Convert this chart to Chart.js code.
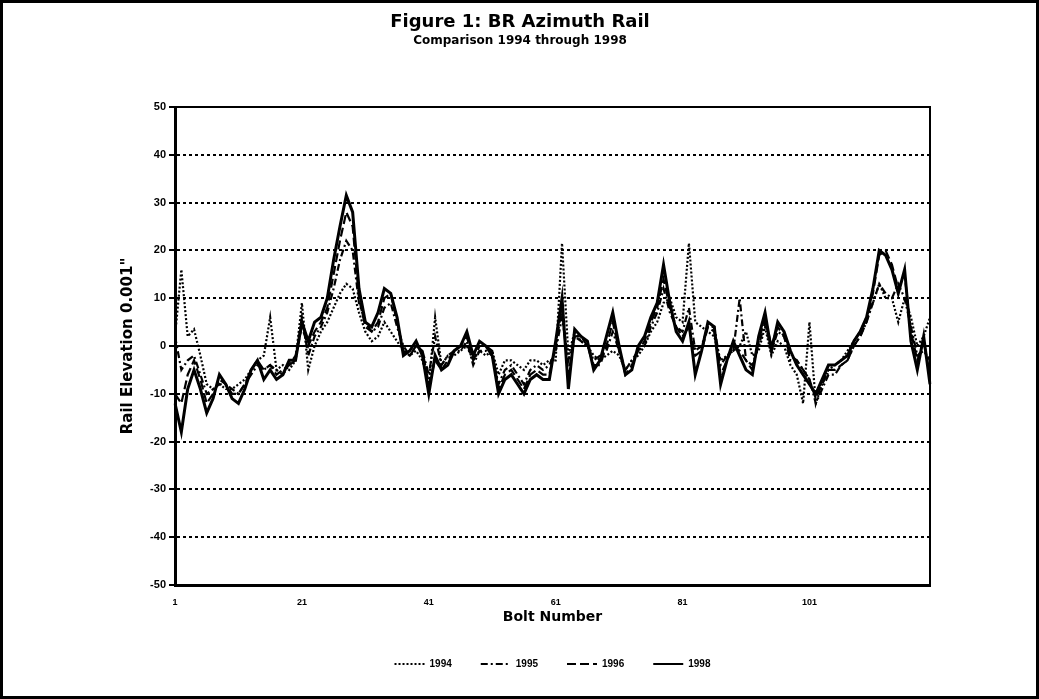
<!DOCTYPE html>
<html>
<head>
<meta charset="utf-8">
<title>Figure 1: BR Azimuth Rail</title>
<script src="https://cdn.jsdelivr.net/npm/chart.js@4.4.1/dist/chart.umd.min.js"></script>
<style>
  html, body { margin: 0; padding: 0; background: #fff; }
  #wrap { width: 1039px; height: 699px; position: relative; }
</style>
</head>
<body>
<div id="wrap"><canvas id="grafico"></canvas></div>
<script>
// bolt numbers along the rail
const bolts = Array.from({length: 120}, (_, i) => i + 1);
const yTicks = [50, 40, 30, 20, 10, 0, -10, -20, -30, -40, -50];

const y1994 = [2,16,2,3.5,-2,-8,-9,-8,-9,-9,
  -8,-7,-5,-3,-2,6,-5,-4,-5,-3,
  9,-5,0,3,5,8,11,13,12,7,
  3,1,2,5,3,1,-1,-2,-1,-3,
  -8,6,-4,-2,-2,-1,0,-3,-1,-2,
  -1,-6,-3,-3,-4,-5,-3,-3,-4,-3,
  -3,21.5,-2,3,1,0,-2,-3,-2,-1,
  -2,-5,-3,-2,0,3,5,9,10,6,
  5,21.5,5,4,3,2,-3,-2,-1,0,
  3,-2,-1,4,-2,1,0,-4,-6,-12,
  5,-12,-8,-5,-4,-3,-1,1,3,6,
  9,13,10,10,5,10,6,0,2,6];

const y1995 = [2,-5,-3,-2,-6,-10,-9,-8,-8,-9,
  -10,-8,-6,-4,-5,-4,-5,-6,-4,-3,
  6,-2,2,4,7,12,18,22,20,9,
  5,3,4,8,9,4,0,-2,0,-1,
  -6,2,-4,-2,-1,-1,1,-4,-1,-1,
  -2,-8,-5,-4,-6,-8,-5,-4,-5,-4,
  -1,6,-3,2,1,0,-3,-2,-1,3,
  -1,-5,-3,-1,0,4,7,12,7,4,
  3,8,-1,0,4,4,-4,-2,-1,10,
  -3,-4,0,5,-1,3,2,-3,-3,-5,
  -7,-12,-9,-6,-6,-4,-3,0,2,5,
  9,13,11,10,13,10,4,-2,-1,-3];

const y1996 = [-10,-12,-6,-3,-7,-12,-10,-7,-8,-10,
  -10,-8,-5,-3,-5,-4,-6,-5,-4,-2,
  4,0,3,5,8,15,22,28,25,10,
  4,3,5,10,11,5,-1,-2,0,-1,
  -8,-3,-5,-3,-1,0,2,-3,0,0,
  -1,-9,-6,-5,-7,-9,-6,-5,-6,-6,
  0,8,-6,2,2,0,-4,-4,0,5,
  -1,-6,-4,-1,1,5,8,14,8,4,
  2,4,-2,-1,4,3,-6,-3,0,-1,
  -3,-5,1,6,0,4,2,-2,-3,-5,
  -7,-11,-8,-5,-5,-4,-3,0,2,5,
  11,19,20,17,12,15,3,-3,1,-6];

const y1998 = [-12,-18,-9,-5,-9,-14,-11,-6,-8,-11,
  -12,-9,-5,-3,-7,-5,-7,-6,-3,-3,
  5,1,5,6,10,18,25,31.5,28,12,
  5,4,7,12,11,6,-2,-1,1,-2,
  -10,-2,-5,-4,-1,0,3,-2,1,0,
  -2,-10,-7,-6,-8,-10,-7,-6,-7,-7,
  1,10,-9,3.5,2,1,-5,-3,2,7,
  0,-6,-5,0,2,6,9,17,9,3,
  1,5,-6,-1,5,4,-8,-3,1,-2,
  -5,-6,2,7,-1,5,3,-1,-4,-6,
  -8,-10,-7,-4,-4,-3,-2,1,3,6,
  12,20,19,16,11,16,1,-5,2,-8];

const fuente = "'Liberation Sans', Arial, sans-serif";
const fuenteAncha = "'DejaVu Sans', Verdana, sans-serif";

// frame around plot, solid zero line, border round the page
const marcos = {
  id: 'marcos',
  afterLayout(chart) {
    // legend sits centred under the plot, not the page
    const l = chart.legend, a = chart.chartArea;
    const shift = (a.left + a.right) / 2 - (l.left + l.right) / 2;
    l.left += shift;
    l.right += shift;
  },
  afterDatasetsDraw(chart) {
    const {ctx, chartArea: a, scales: {y}} = chart;
    ctx.save();
    ctx.strokeStyle = '#000';
    ctx.setLineDash([]);
    const y0 = y.getPixelForValue(0);
    ctx.lineWidth = 2;
    ctx.beginPath();
    ctx.moveTo(a.left, y0);
    ctx.lineTo(a.right, y0);
    ctx.stroke();
    ctx.strokeRect(a.left, a.top, a.right - a.left, a.bottom - a.top);
    ctx.lineWidth = 3;
    ctx.strokeRect(1.5, 1.5, chart.width - 3, chart.height - 3);
    ctx.restore();
  }
};

const serie = (label, data, dash, width) => ({
  label: label,
  data: data,
  borderColor: '#000',
  backgroundColor: '#000',
  borderWidth: width,
  borderDash: dash,
  pointRadius: 0,
  pointStyle: 'line',
  tension: 0,
  fill: false
});

const ctx = document.getElementById('grafico').getContext('2d');
new Chart(ctx, {
  type: 'line',
  data: {
    labels: bolts,
    datasets: [
      serie('1994', y1994, [2, 2], 2.2),
      serie('1995', y1995, [7, 3, 2, 3], 2.2),
      serie('1996', y1996, [9, 4], 2.2),
      serie('1998', y1998, [], 3)
    ]
  },
  options: {
    responsive: true,
    maintainAspectRatio: false,
    animation: false,
    layout: { padding: { left: 110, right: 109, top: 10, bottom: 20 } },
    plugins: {
      title: {
        display: true,
        text: 'Figure 1: BR Azimuth Rail',
        color: '#000',
        font: { family: fuenteAncha, size: 18, weight: 'bold' },
        padding: { top: 2, bottom: 0 }
      },
      subtitle: {
        display: true,
        text: 'Comparison 1994 through 1998',
        color: '#000',
        font: { family: fuenteAncha, size: 12, weight: 'bold' },
        padding: { top: 0, bottom: 59 }
      },
      legend: {
        position: 'bottom',
        labels: {
          color: '#000',
          usePointStyle: true,
          pointStyleWidth: 30,
          boxHeight: 8,
          padding: 29,
          font: { family: fuente, size: 10, weight: 'bold' },
          // point style drops the dataset dash, so put it back
          generateLabels: (chart) => Chart.defaults.plugins.legend.labels.generateLabels(chart)
            .map((item, i) => ({
              ...item,
              lineDash: chart.data.datasets[i].borderDash,
              lineWidth: 2
            }))
        }
      },
      tooltip: { enabled: false }
    },
    scales: {
      x: {
        afterFit: (s) => { s.height = 45; },
        grid: { display: false },
        border: { display: true, color: '#000', width: 3 },
        ticks: {
          color: '#000',
          autoSkip: false,
          maxRotation: 0,
          padding: 4,
          font: { family: fuente, size: 9, weight: 'bold' },
          callback: (v, i) => (i % 20 === 0 ? bolts[i] : '')
        },
        title: {
          display: true,
          text: 'Bolt Number',
          color: '#000',
          font: { family: fuenteAncha, size: 14, weight: 'bold' },
          padding: { top: 0, bottom: 4 }
        }
      },
      y: {
        min: yTicks[yTicks.length - 1],
        max: yTicks[0],
        afterFit: (s) => { s.width = 65; },
        grid: {
          color: '#000',
          lineWidth: 2,
          drawTicks: true,
          tickLength: 6,
          tickWidth: 2,
          tickColor: '#000'
        },
        border: { display: true, color: '#000', width: 3, dash: [3, 3] },
        ticks: {
          color: '#000',
          stepSize: 10,
          padding: 3,
          font: { family: fuente, size: 11, weight: 'bold' }
        },
        title: {
          display: true,
          text: 'Rail Elevation 0.001"',
          color: '#000',
          font: { family: fuenteAncha, size: 15, weight: 'bold' },
          padding: { top: 9, bottom: 0 }
        }
      }
    }
  },
  plugins: [marcos]
});
</script>
</body>
</html>
